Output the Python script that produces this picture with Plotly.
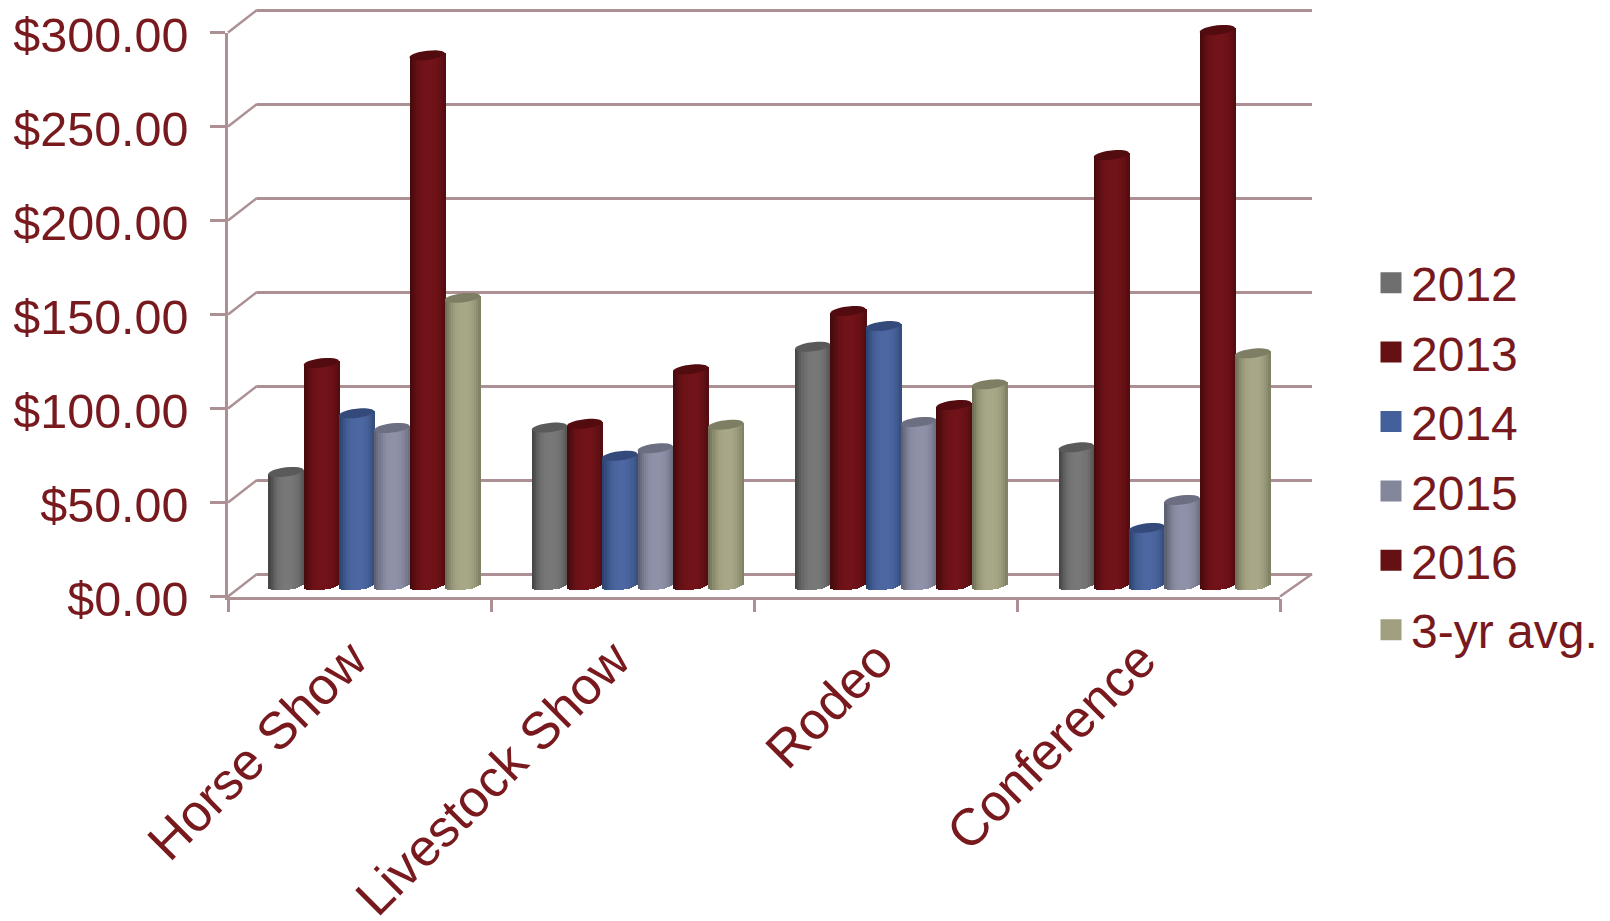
import math
import plotly.graph_objects as go

categories = ["Horse Show", "Livestock Show", "Rodeo", "Conference"]
years = ["2012", "2013", "2014", "2015", "2016", "3-yr avg."]
v2012 = [60.4, 84, 127, 73.5]
v2013 = [118.4, 86, 146, 229]
v2014 = [91.6, 69, 138, 30.6]
v2015 = [83.8, 73, 87, 45.5]
v2016 = [282, 115, 96, 295.5]
vavg = [153, 85.5, 107, 123.5]
series = [v2012, v2013, v2014, v2015, v2016, vavg]
y_ticks = [0, 50, 100, 150, 200, 250, 300]
y_labels = ["$0.00", "$50.00", "$100.00", "$150.00", "$200.00", "$250.00", "$300.00"]

dark = ["#474747", "#470a0d", "#2c4470", "#5e6272", "#470a0d", "#6f7056"]
light = ["#787878", "#711318", "#4c67a1", "#8f91a8", "#711318", "#a8a888"]
cap = ["#5a5a5a", "#520b0f", "#344a7a", "#6c6f82", "#520b0f", "#7e7e64"]
swatch = ["#6f6f6f", "#651013", "#44609a", "#84869b", "#651013", "#a0a080"]
TEXT = "#78191e"
LINE = "#ad9093"

W, H = 1610, 921
def xd(a, b): return [a / W, b / W]
def yd(bottom, top): return [1 - bottom / H, 1 - top / H]

def hexrgb(c): return [int(c[i:i + 2], 16) for i in (1, 3, 5)]
def mix(a, b, t):
    p, q = hexrgb(a), hexrgb(b)
    return "rgb(%d,%d,%d)" % tuple(round(p[i] + (q[i] - p[i]) * t) for i in range(3))

PX = 1.88          # pixels per dollar on the bar plane
LO, HI = -13, 305
BAR_W = 0.134
N = 17
CAP_H = 4.6 / PX   # half height of an end ellipse, in dollars
TILT = 2.0 / PX    # rise across half a bar

fig = go.Figure()

# back wall
fig.add_trace(go.Scatter(x=[None], y=[None], xaxis="x", yaxis="y", showlegend=False, hoverinfo="skip"))
# front axes
fig.add_trace(go.Scatter(x=[None], y=[None], xaxis="x2", yaxis="y2", showlegend=False, hoverinfo="skip"))

# bars, as shaded cylinders
shapes = []
for s, vals in enumerate(series):
    centers = [c + 0.5 + (s - 2.5) * BAR_W for c in range(len(categories))]
    for k in range(N):
        u = (k + 0.5) / N * 2 - 1
        t = max(0.0, 1 - abs(u - 0.08) ** 2.6)
        base = [-CAP_H * math.sqrt(max(0, 1 - u * u)) + TILT * u for _ in vals]
        top = [v + TILT * u for v in vals]
        fig.add_trace(go.Bar(
            x=[c + u * BAR_W / 2 for c in centers],
            y=[a - b for a, b in zip(top, base)],
            base=base,
            width=BAR_W / N * 1.35,
            marker=dict(color=mix(dark[s], light[s], t), line=dict(width=0)),
            xaxis="x3", yaxis="y3", showlegend=False, hoverinfo="skip"))
    for c, v in zip(centers, vals):
        pts = []
        for d in range(0, 360, 15):
            a = math.radians(d)
            pts.append((c + math.cos(a) * BAR_W / 2, v + math.sin(a) * CAP_H + math.cos(a) * TILT))
        path = "M" + "L".join("%.4f,%.3f" % p for p in pts) + "Z"
        shapes.append(dict(type="path", path=path, xref="x3", yref="y3",
                           fillcolor=cap[s], line=dict(width=0), layer="above"))

# legend
for s, name in enumerate(years):
    fig.add_trace(go.Scatter(
        x=[None], y=[None], mode="markers", name=name, legendgroup=name,
        xaxis="x", yaxis="y",
        marker=dict(symbol="square", size=16, color=swatch[s], line=dict(color=swatch[s], width=5))))

# wall side lines joining the front ticks to the back grid
FX, BX = 228, 257
def fy(v): return 596.5 - v * 1.88
def by(v): return 574 - v * 1.88
for v in y_ticks:
    shapes.append(dict(type="line", xref="paper", yref="paper", layer="below",
                       x0=FX / W, x1=BX / W, y0=1 - fy(v) / H, y1=1 - by(v) / H,
                       line=dict(color=LINE, width=2.5)))
shapes.append(dict(type="line", xref="paper", yref="paper", layer="below",
                   x0=1280 / W, x1=1312 / W, y0=1 - fy(0) / H, y1=1 - by(0) / H,
                   line=dict(color=LINE, width=2.5)))

font = dict(family="Liberation Sans, Arial, sans-serif", color=TEXT)
fig.update_layout(
    width=W, height=H, autosize=False,
    margin=dict(l=0, r=0, t=0, b=0, autoexpand=False),
    paper_bgcolor="white", plot_bgcolor="rgba(0,0,0,0)",
    barmode="overlay", bargap=0,
    shapes=shapes,
    font=dict(size=48, **font),
    legend=dict(x=1371 / W, y=1 - 245 / H, xanchor="left", yanchor="top",
                font=dict(size=48, **font), tracegroupgap=4, itemsizing="trace",
                bgcolor="rgba(0,0,0,0)", borderwidth=0),
    xaxis=dict(domain=xd(BX, 1312), range=[0, 4], anchor="y", visible=False, fixedrange=True),
    yaxis=dict(domain=yd(by(-3), by(303)), range=[-3, 303], anchor="x", side="left",
               tickvals=y_ticks, showticklabels=False, ticks="", showline=False, zeroline=False,
               showgrid=True, gridcolor=LINE, gridwidth=2.5, fixedrange=True),
    xaxis2=dict(domain=xd(FX, 1280), range=[0, 4], anchor="y2",
                tickvals=[i + 0.5 for i in range(len(categories))], ticktext=categories,
                tickangle=-45, ticks="", showgrid=False, zeroline=False, automargin=False,
                showline=True, linecolor=LINE, linewidth=2.5,
                tickfont=dict(size=52, **font), ticklabelstandoff=9, ticklabelshift=-8,
                minor=dict(tickvals=list(range(len(categories) + 1)), ticks="outside",
                           ticklen=13, tickwidth=2.5, tickcolor=LINE, showgrid=False),
                fixedrange=True),
    yaxis2=dict(domain=yd(fy(0), fy(300)), range=[0, 300], anchor="x2",
                tickvals=y_ticks, ticktext=y_labels, ticks="outside", ticklen=15, automargin=False,
                tickwidth=2.5, tickcolor=LINE, showgrid=False, zeroline=False,
                showline=True, linecolor=LINE, linewidth=2.5,
                tickfont=dict(size=48.5, **font), ticklabelstandoff=12, ticklabelshift=3,
                fixedrange=True),
    xaxis3=dict(domain=xd(242.5, 1296), range=[0, 4], anchor="y3", visible=False, fixedrange=True),
    yaxis3=dict(domain=yd(585.5 - LO * PX, 585.5 - HI * PX), range=[LO, HI], anchor="x3",
                visible=False, fixedrange=True),
)

fig.write_html("out.html", config=dict(displayModeBar=False),
               post_script="document.body.style.margin='0';")
